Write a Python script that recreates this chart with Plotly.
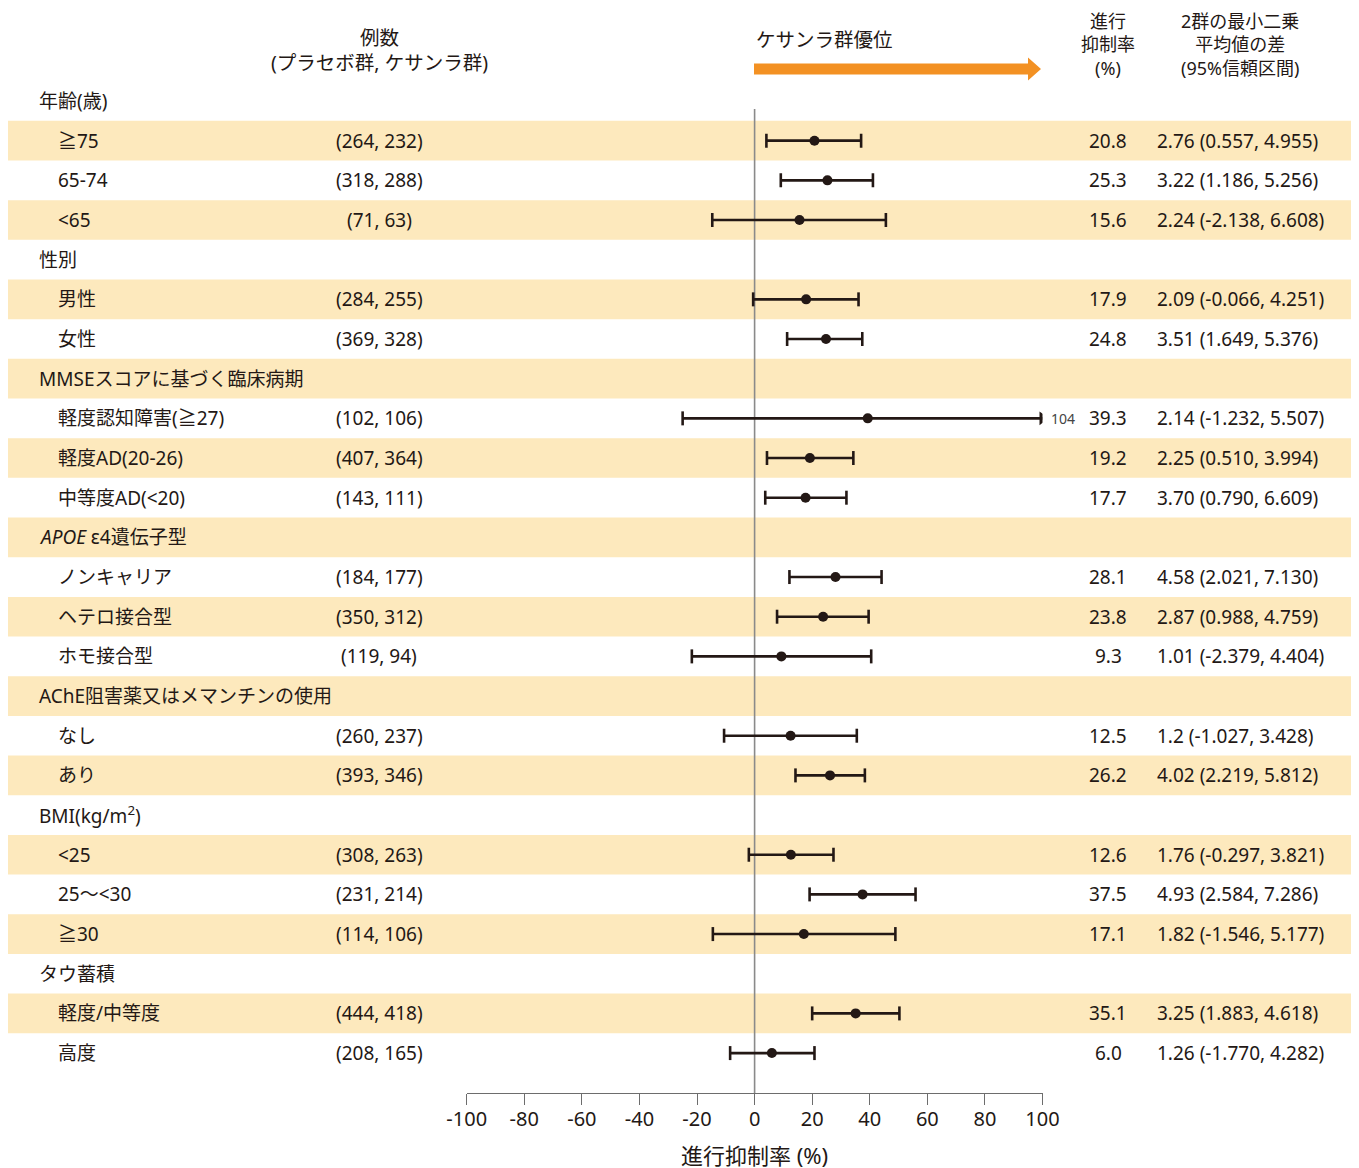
import plotly.graph_objects as go

# ---------------- data ----------------
labels = ["年齢(歳)", "≧75", "65-74", "&lt;65",
          "性別", "男性", "女性",
          "MMSEスコアに基づく臨床病期", "軽度認知障害(≧27)", "軽度AD(20-26)", "中等度AD(&lt;20)",
          "<i>APOE</i> ε4遺伝子型", "ノンキャリア", "ヘテロ接合型", "ホモ接合型",
          "AChE阻害薬又はメマンチンの使用", "なし", "あり",
          "BMI(kg/m<sup>2</sup>)", "&lt;25", "25～&lt;30", "≧30",
          "タウ蓄積", "軽度/中等度", "高度"]
counts = ["", "(264, 232)", "(318, 288)", "(71, 63)",
          "", "(284, 255)", "(369, 328)",
          "", "(102, 106)", "(407, 364)", "(143, 111)",
          "", "(184, 177)", "(350, 312)", "(119, 94)",
          "", "(260, 237)", "(393, 346)",
          "", "(308, 263)", "(231, 214)", "(114, 106)",
          "", "(444, 418)", "(208, 165)"]
inhibition = [None, 20.8, 25.3, 15.6,
              None, 17.9, 24.8,
              None, 39.3, 19.2, 17.7,
              None, 28.1, 23.8, 9.3,
              None, 12.5, 26.2,
              None, 12.6, 37.5, 17.1,
              None, 35.1, 6.0]
ci_lo = [None, 4.1, 9.1, -14.7,
         None, -0.5, 11.3,
         None, -25.0, 4.3, 3.7,
         None, 12.1, 7.8, -21.8,
         None, -10.6, 14.2,
         None, -2.0, 19.1, -14.5,
         None, 20.0, -8.5]
ci_hi = [None, 37.0, 41.1, 45.6,
         None, 36.1, 37.4,
         None, 104, 34.3, 31.9,
         None, 44.1, 39.6, 40.5,
         None, 35.5, 38.3,
         None, 27.4, 55.9, 48.9,
         None, 50.3, 20.8]
diff_text = ["", "2.76 (0.557, 4.955)", "3.22 (1.186, 5.256)", "2.24 (-2.138, 6.608)",
             "", "2.09 (-0.066, 4.251)", "3.51 (1.649, 5.376)",
             "", "2.14 (-1.232, 5.507)", "2.25 (0.510, 3.994)", "3.70 (0.790, 6.609)",
             "", "4.58 (2.021, 7.130)", "2.87 (0.988, 4.759)", "1.01 (-2.379, 4.404)",
             "", "1.2 (-1.027, 3.428)", "4.02 (2.219, 5.812)",
             "", "1.76 (-0.297, 3.821)", "4.93 (2.584, 7.286)", "1.82 (-1.546, 5.177)",
             "", "3.25 (1.883, 4.618)", "1.26 (-1.770, 4.282)"]
x_ticks = [-100, -80, -60, -40, -20, 0, 20, 40, 60, 80, 100]
x_min, x_max = -100, 100

# ---------------- layout helpers ----------------
W, H = 1359, 1168
OFF = 8  # page body margin offset
ROW0, STEP = 101 - OFF, 39.67
FONT = "Noto Sans, Noto Sans CJK JP"
TXT = "#231815"
BAND = "#fde9bd"

def px(x):
    return (x - OFF) / W

def py(y):
    return 1 - (y - OFF) / H

n = len(labels)
rows = list(range(n))
is_header = [c == "" for c in counts]

fig = go.Figure()

lx, ly = [], []
cap_x, cap_y = [], []
arr_x, arr_y, arr_txt = [], [], []
for i in rows:
    if inhibition[i] is None:
        continue
    hi = min(ci_hi[i], x_max)
    lx += [ci_lo[i], hi, None]
    ly += [i, i, None]
    cap_x.append(ci_lo[i]); cap_y.append(i)
    if ci_hi[i] > x_max:
        arr_x.append(x_max); arr_y.append(i); arr_txt.append(str(ci_hi[i]))
    else:
        cap_x.append(ci_hi[i]); cap_y.append(i)

fig.add_trace(go.Scatter(x=lx, y=ly, mode="lines",
                         line=dict(color=TXT, width=2.6), hoverinfo="skip", showlegend=False))
fig.add_trace(go.Scatter(x=cap_x, y=cap_y, mode="markers",
                         marker=dict(symbol="line-ns", size=10, line=dict(color=TXT, width=2.6)),
                         hoverinfo="skip", showlegend=False))
fig.add_trace(go.Scatter(x=arr_x, y=arr_y, mode="markers",
                         marker=dict(symbol="triangle-right", size=12, color=TXT,
                                     line=dict(width=0)),
                         hoverinfo="skip", showlegend=False))
px_pts = [inhibition[i] for i in rows if inhibition[i] is not None]
py_pts = [i for i in rows if inhibition[i] is not None]
fig.add_trace(go.Scatter(x=px_pts, y=py_pts, mode="markers",
                         marker=dict(symbol="circle", size=10, color=TXT, line=dict(width=0)),
                         showlegend=False))

shapes = []
for i in rows:
    if i % 2 == 1:
        shapes.append(dict(type="rect", xref="paper", yref="y",
                           x0=px(8), x1=px(1355), y0=i - 0.5, y1=i + 0.5,
                           fillcolor=BAND, line=dict(width=0), layer="below"))
shapes.append(dict(type="line", xref="x", yref="paper", x0=0, x1=0,
                   y0=py(1093), y1=py(109), line=dict(color="#8a8a8a", width=1.6), layer="below"))
ay, sh, hh = 69, 5.5, 11.5
ax0, axh, axt = 754, 1028, 1041
path = (f"M {px(ax0)} {py(ay - sh)} L {px(axh)} {py(ay - sh)} L {px(axh)} {py(ay - hh)} "
        f"L {px(axt)} {py(ay)} L {px(axh)} {py(ay + hh)} L {px(axh)} {py(ay + sh)} "
        f"L {px(ax0)} {py(ay + sh)} Z")
shapes.append(dict(type="path", xref="paper", yref="paper", path=path,
                   fillcolor="#f39123", line=dict(width=0)))

ann = []
fs = 19
for i in rows:
    ann.append(dict(x=px(37 if is_header[i] else 56), y=i, xref="paper", yref="y",
                    text=labels[i], showarrow=False, xanchor="left", yanchor="middle",
                    font=dict(family=FONT, size=fs, color=TXT)))
    if counts[i]:
        ann.append(dict(x=px(379), y=i, xref="paper", yref="y", text=counts[i],
                        showarrow=False, xanchor="center", yanchor="middle",
                        font=dict(family=FONT, size=fs, color=TXT)))
    if inhibition[i] is not None:
        ann.append(dict(x=px(1108), y=i, xref="paper", yref="y", text=f"{inhibition[i]:.1f}",
                        showarrow=False, xanchor="center", yanchor="middle",
                        font=dict(family=FONT, size=fs, color=TXT)))
        ann.append(dict(x=px(1155), y=i, xref="paper", yref="y", text=diff_text[i],
                        showarrow=False, xanchor="left", yanchor="middle",
                        font=dict(family=FONT, size=fs, color=TXT)))
for xv, yv, t in zip(arr_x, arr_y, arr_txt):
    ann.append(dict(x=xv, y=yv, xref="x", yref="y", text=t, showarrow=False,
                    xanchor="left", yanchor="middle", xshift=6,
                    font=dict(family=FONT, size=14, color="#444444")))

def head(text, x, y, anchor="center", size=19.5):
    ann.append(dict(x=px(x), y=py(y), xref="paper", yref="paper", text=text,
                    showarrow=False, xanchor=anchor, yanchor="middle", align="center",
                    font=dict(family=FONT, size=size, color=TXT)))

head("例数<br>(プラセボ群, ケサンラ群)", 379, 50.5)
head("ケサンラ群優位", 754, 39, "left")
head("進行<br>抑制率<br>(%)", 1108, 44, size=18)
head("2群の最小二乗<br>平均値の差<br>(95%信頼区間)", 1240, 44, size=18)

fig.update_layout(
    width=W, height=H,
    margin=dict(l=0, r=0, t=0, b=0, pad=0, autoexpand=False),
    paper_bgcolor="white", plot_bgcolor="rgba(0,0,0,0)",
    shapes=shapes, annotations=ann,
    font=dict(family=FONT, color=TXT),
    xaxis=dict(range=[x_min, x_max], domain=[px(466.7), px(1042.5)], anchor="free",
               position=py(1093), showline=True, linecolor="#6d6d6d", linewidth=1.3,
               ticks="outside", ticklen=11, tickwidth=1.3, tickcolor="#6d6d6d",
               tickvals=x_ticks, ticktext=[str(t) for t in x_ticks],
               tickfont=dict(family=FONT, size=20, color=TXT),
               ticklabelstandoff=-3,
               showgrid=False, zeroline=False, automargin=False,
               title=dict(text="進行抑制率 (%)", font=dict(family=FONT, size=22, color=TXT),
                          standoff=17)),
    yaxis=dict(range=[(H - ROW0) / STEP, -ROW0 / STEP], domain=[0, 1], visible=False,
               showgrid=False, zeroline=False, automargin=False),
)

fig.write_html("out.html")
